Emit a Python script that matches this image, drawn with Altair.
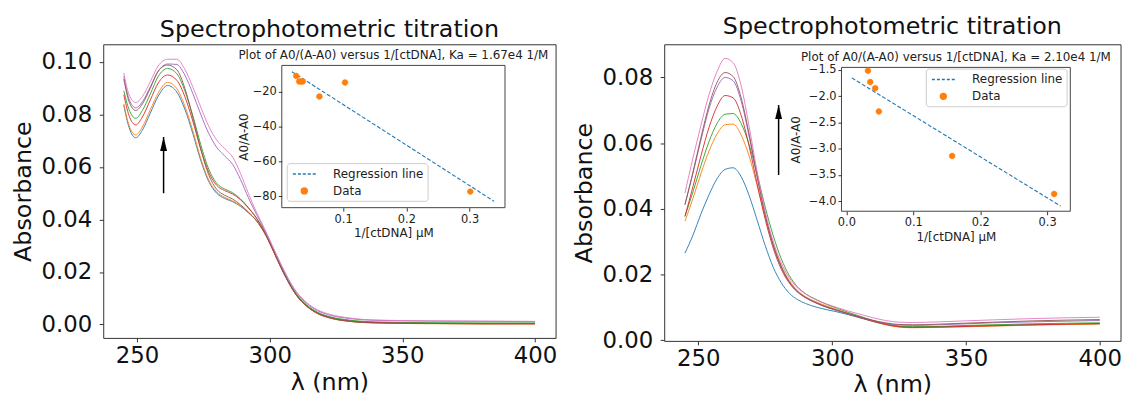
import altair as alt
import pandas as pd

FONT = "DejaVu Sans"
TAB10 = ["#1f77b4", "#ff7f0e", "#2ca02c", "#d62728", "#9467bd", "#8c564b", "#e377c2"]
CURVE_IDS = ["1", "2", "3", "4", "5", "6", "7"]

TITLE = "Spectrophotometric titration"
X_TITLE = "λ (nm)"
Y_TITLE = "Absorbance"
INSET_X_TITLE = "1/[ctDNA] μM"
INSET_Y_TITLE = "A0/A-A0"
LEGEND_NAMES = ["Regression line", "Data"]
LEGEND_COLORS = ["#1f77b4", "#ff7f0e"]
X_TICKS = [250, 300, 350, 400]

# ---------------- left panel data ----------------
wl_left = [245, 247, 249.5, 252, 255, 258, 261.5, 265, 268, 271, 274, 277, 280, 283, 286,
           289, 292, 295, 298, 301, 304, 307, 310, 314, 318, 323, 330, 340, 360, 380, 400]
left_blue = [.0835, .0750, .0711, .0740, .0805, .0870, .0910, .0885, .0820, .0728, .0625, .0545, .0500, .0480, .0468,
             .0450, .0425, .0395, .0350, .0290, .0225, .0165, .0115, .0072, .0045, .0027, .0015, .0008, .0005, .0004, .0004]
left_orange = [.0840, .0758, .0722, .0752, .0818, .0882, .0922, .0898, .0832, .0738, .0632, .0550, .0505, .0484, .0471,
               .0452, .0426, .0395, .0349, .0288, .0222, .0162, .0112, .0069, .0042, .0024, .0012, .0006, .0003, .0002, .0002]
left_green = [.0890, .0818, .0785, .0815, .0878, .0945, .0975, .0955, .0890, .0795, .0685, .0592, .0538, .0516, .0502,
              .0478, .0445, .0406, .0355, .0292, .0226, .0166, .0117, .0074, .0047, .0029, .0017, .0010, .0007, .0006, .0006]
left_red = [.0875, .0795, .0760, .0790, .0855, .0920, .0950, .0930, .0868, .0775, .0668, .0580, .0530, .0510, .0497,
            .0475, .0443, .0405, .0353, .0289, .0222, .0162, .0113, .0070, .0043, .0025, .0013, .0007, .0004, .0003, .0003]
left_purple = [.0945, .0858, .0825, .0848, .0905, .0965, .0992, .0990, .0950, .0880, .0800, .0728, .0675, .0642, .0610,
               .0552, .0482, .0420, .0362, .0297, .0232, .0172, .0123, .0080, .0053, .0035, .0023, .0016, .0013, .0012, .0011]
left_brown = [.0935, .0848, .0815, .0840, .0900, .0965, .0988, .0970, .0900, .0790, .0668, .0570, .0515, .0492, .0478,
              .0456, .0428, .0396, .0350, .0288, .0222, .0162, .0112, .0069, .0042, .0024, .0012, .0006, .0004, .0003, .0003]
left_pink = [.0958, .0875, .0845, .0868, .0925, .0985, .1010, .1010, .0972, .0905, .0828, .0755, .0703, .0670, .0638,
             .0575, .0498, .0428, .0366, .0300, .0235, .0175, .0126, .0083, .0056, .0038, .0025, .0017, .0014, .0013, .0012]
left_x_domain = [237.25, 407.75]
left_y_domain = [-0.0051, 0.1067]
left_y_ticks = [0.0, 0.02, 0.04, 0.06, 0.08, 0.10]
left_arrow_x = [260]
left_arrow_from = [0.050]
left_arrow_to = [0.0714]

left_inset_title = "Plot of A0/(A-A0) versus 1/[ctDNA], Ka = 1.67e4 1/M"
left_pts_x = [0.0258, 0.0305, 0.0335, 0.0362, 0.0625, 0.1030, 0.3011]
left_pts_y = [-11.0, -14.2, -14.2, -14.2, -22.8, -14.8, -77.3]
left_reg_x = [0.019, 0.339]
left_reg_y = [-8.6, -82.9]
left_inset_x_domain = [0.003, 0.356]
left_inset_y_domain = [-86.5, -5.0]
left_inset_x_ticks = [0.1, 0.2, 0.3]
left_inset_y_ticks = [-20, -40, -60, -80]

# ---------------- right panel data ----------------
wl_right = [245, 248, 251, 254, 257, 260, 263, 266, 269, 272, 275, 278, 281, 284, 287,
            290, 294, 298, 302, 306, 310, 315, 320, 325, 330, 340, 350, 360, 375, 400]
right_blue = [.0265, .0320, .0385, .0443, .0492, .0520, .0525, .0498, .0440, .0365, .0288, .0222, .0175, .0143, .0124,
              .0112, .0101, .0093, .0086, .0078, .0069, .0058, .0049, .0042, .0040, .0041, .0043, .0045, .0047, .0050]
right_orange = [.0362, .0432, .0508, .0576, .0628, .0656, .0658, .0625, .0560, .0470, .0375, .0292, .0228, .0182, .0152,
                .0133, .0117, .0104, .0093, .0082, .0071, .0058, .0047, .0040, .0038, .0039, .0041, .0043, .0046, .0049]
right_green = [.0377, .0452, .0532, .0605, .0660, .0688, .0690, .0660, .0595, .0505, .0405, .0318, .0248, .0197, .0163,
               .0142, .0124, .0109, .0097, .0085, .0074, .0061, .0050, .0043, .0041, .0042, .0045, .0047, .0050, .0053]
right_red = [.0377, .0468, .0562, .0648, .0712, .0745, .0738, .0685, .0590, .0475, .0368, .0280, .0216, .0174, .0147,
             .0130, .0114, .0101, .0090, .0080, .0070, .0058, .0048, .0041, .0039, .0040, .0042, .0044, .0047, .0051]
right_purple = [.0413, .0508, .0610, .0705, .0770, .0800, .0790, .0728, .0620, .0495, .0380, .0288, .0222, .0177, .0148,
                .0130, .0113, .0100, .0090, .0080, .0071, .0060, .0051, .0046, .0045, .0047, .0050, .0053, .0056, .0060]
right_brown = [.0413, .0512, .0618, .0715, .0785, .0815, .0803, .0738, .0627, .0500, .0383, .0290, .0223, .0178, .0149,
               .0131, .0114, .0101, .0091, .0081, .0072, .0061, .0053, .0048, .0047, .0049, .0052, .0055, .0059, .0063]
right_pink = [.0448, .0555, .0655, .0748, .0818, .0858, .0845, .0775, .0650, .0512, .0392, .0300, .0235, .0190, .0160,
              .0141, .0123, .0110, .0099, .0089, .0080, .0069, .0060, .0055, .0054, .0056, .0059, .0062, .0066, .0070]
right_x_domain = [237.25, 407.75]
right_y_domain = [-0.0002, 0.0901]
right_y_ticks = [0.0, 0.02, 0.04, 0.06, 0.08]
right_arrow_x = [280]
right_arrow_from = [0.0503]
right_arrow_to = [0.0716]

right_inset_title = "Plot of A0/(A-A0) versus 1/[ctDNA], Ka = 2.10e4 1/M"
right_pts_x = [0.0322, 0.0356, 0.0430, 0.0485, 0.158, 0.3105]
right_pts_y = [-1.513, -1.73, -1.845, -2.29, -3.136, -3.86]
right_reg_x = [0.008, 0.320]
right_reg_y = [-1.65, -4.09]
right_inset_x_domain = [-0.0074, 0.3347]
right_inset_y_domain = [-4.19, -1.45]
right_inset_x_ticks = [0.0, 0.1, 0.2, 0.3]
right_inset_y_ticks = [-1.5, -2.0, -2.5, -3.0, -3.5, -4.0]

# ---------------- symbols (shapes) ----------------
HEAD_PATH = "M0,0L0.25,1L-0.25,1Z"
DOT_PATH = "M0.5,0A0.5,0.5,0,1,1,-0.5,0A0.5,0.5,0,1,1,0.5,0Z"
DASH_PATH = "M-1.92,0H-1.42M-1.08,0H-0.58M-0.25,0H0.25M0.58,0H1.08M1.42,0H1.92"

# ---------------- layout (pixels) ----------------
LEFT_LAYOUT = dict(w=456, h=296, inset_x=[180, 405], inset_y=[164.7, 21.3],
                   inset_x_offset=-131.3, inset_y_offset=-180, legend_x=185, legend_y=119.8,
                   ytitle_pad=2, xfmt=".1f", yfmt="d", title_offset=2,
                   xlab_pad=3, xtitle_pad=3)
RIGHT_LAYOUT = dict(w=460, h=299, inset_x=[178.7, 409.4], inset_y=[168.3, 23.3],
                    inset_x_offset=-130.7, inset_y_offset=-178.7, legend_x=263.7, legend_y=24.5,
                    ytitle_pad=6, xfmt=".1f", yfmt=".1f", title_offset=5,
                    xlab_pad=3, xtitle_pad=2)


def panel(wl, curves, xdom, ydom, yticks, arrow, inset, lay):
    rows = []
    for cid, vals in zip(CURVE_IDS, curves):
        for w, a in zip(wl, vals):
            rows.append({"wl": w, "ab": a, "curve": cid})
    df = pd.DataFrame(rows)

    xax = alt.Axis(values=X_TICKS, title=X_TITLE, format="d", grid=False, domain=False,
                   tickSize=4, tickColor="#333", labelFontSize=23, titleFontSize=24,
                   labelPadding=lay["xlab_pad"], titlePadding=lay["xtitle_pad"], labelFlush=False,
                   titleFontWeight="normal", labelColor="#111", titleColor="#111")
    yax = alt.Axis(values=yticks, title=Y_TITLE, format=".2f", grid=False, domain=False,
                   tickSize=4, tickColor="#333", labelFontSize=23, titleFontSize=24,
                   labelPadding=7.5, titlePadding=5.5, titleFontWeight="normal",
                   labelColor="#111", titleColor="#111")
    X = alt.X("wl:Q", scale=alt.Scale(domain=xdom, nice=False, zero=False), axis=xax)
    Y = alt.Y("ab:Q", scale=alt.Scale(domain=ydom, nice=False, zero=False), axis=yax)

    lines = alt.Chart(df).mark_line(strokeWidth=0.9, interpolate="monotone").encode(
        x=X, y=Y,
        color=alt.Color("curve:N", scale=alt.Scale(domain=CURVE_IDS, range=TAB10), legend=None),
    )
    adf = pd.DataFrame({"wl": arrow[0], "ab": arrow[1], "ab2": arrow[2]})
    shaft = alt.Chart(adf).mark_rule(color="black", strokeWidth=1.5).encode(x=X, y=Y, y2="ab2:Q")
    hdf = pd.DataFrame({"wl": arrow[0], "ab": arrow[2]})
    head = alt.Chart(hdf).mark_point(shape=HEAD_PATH, filled=True, size=784, color="black",
                                     opacity=1, strokeWidth=0).encode(x=X, y=Y)
    main = alt.layer(lines, shaft, head)

    # ---- inset ----
    ixdom, iydom = inset["xdom"], inset["ydom"]
    ixax = alt.Axis(orient="bottom", offset=lay["inset_x_offset"], values=inset["xticks"],
                    format=lay["xfmt"], title=INSET_X_TITLE, grid=False, domain=False,
                    tickSize=3.5, tickColor="#333", labelFontSize=11.5, titleFontSize=12,
                    labelPadding=2, titlePadding=3, labelFlush=False, titleFontWeight="normal",
                    labelColor="#222", titleColor="#222", zindex=1)
    iyax = alt.Axis(orient="left", offset=lay["inset_y_offset"], values=inset["yticks"],
                    format=lay["yfmt"], title=INSET_Y_TITLE, grid=False, domain=False,
                    tickSize=3.5, tickColor="#333", labelFontSize=11.5, titleFontSize=12,
                    labelPadding=2, titlePadding=lay["ytitle_pad"], titleFontWeight="normal",
                    labelColor="#222", titleColor="#222", zindex=1)
    IX = alt.X("ix:Q", scale=alt.Scale(domain=ixdom, range=lay["inset_x"], nice=False, zero=False), axis=ixax)
    IY = alt.Y("iy:Q", scale=alt.Scale(domain=iydom, range=lay["inset_y"], nice=False, zero=False), axis=iyax)

    box = alt.Chart(pd.DataFrame({"ix": [ixdom[0]], "ix2": [ixdom[1]], "iy": [iydom[0]], "iy2": [iydom[1]]})
                    ).mark_rect(fill="white", stroke="#444", strokeWidth=1).encode(
        x=IX, x2="ix2:Q", y=IY, y2="iy2:Q")
    reg = alt.Chart(pd.DataFrame({"ix": inset["reg_x"], "iy": inset["reg_y"]})).mark_line(
        color=LEGEND_COLORS[0], strokeDash=[4, 2], strokeWidth=1.1).encode(x=IX, y=IY)

    leg = alt.Legend(orient="none", legendX=lay["legend_x"], legendY=lay["legend_y"], title=None,
                     padding=4, strokeColor="#cccccc", fillColor="white", cornerRadius=3,
                     labelFontSize=12, labelColor="#222", labelFont=FONT, symbolSize=144,
                     symbolStrokeWidth=1.4, symbolOffset=6.7, labelOffset=22, rowPadding=4)
    pdf = pd.DataFrame({"ix": inset["pts_x"], "iy": inset["pts_y"],
                        "series": [LEGEND_NAMES[1]] * len(inset["pts_x"])})
    pts = alt.Chart(pdf).mark_point(filled=False, fill=LEGEND_COLORS[1], size=144, strokeWidth=0.4,
                                    opacity=1).encode(
        x=IX, y=IY,
        color=alt.Color("series:N", scale=alt.Scale(domain=LEGEND_NAMES, range=LEGEND_COLORS), legend=leg),
        shape=alt.Shape("series:N", scale=alt.Scale(domain=LEGEND_NAMES, range=[DASH_PATH, DOT_PATH]), legend=leg),
    )
    tdf = pd.DataFrame({"ix": [(ixdom[0] + ixdom[1]) / 2], "iy": [iydom[1]], "t": [inset["title"]]})
    ttl = alt.Chart(tdf).mark_text(dy=-6, baseline="alphabetic", fontSize=12, font=FONT,
                                   color="#222").encode(x=IX, y=IY, text="t:N")
    inset_layer = alt.layer(box, reg, pts, ttl)

    return alt.layer(main, inset_layer).resolve_scale(
        x="independent", y="independent", color="independent", shape="independent"
    ).properties(
        width=lay["w"], height=lay["h"],
        title=alt.Title(TITLE, fontSize=24, fontWeight="normal", font=FONT, anchor="middle",
                        frame="group", offset=lay["title_offset"], color="#111"),
    )


left = panel(
    wl_left,
    [left_blue, left_orange, left_green, left_red, left_purple, left_brown, left_pink],
    left_x_domain, left_y_domain, left_y_ticks,
    (left_arrow_x, left_arrow_from, left_arrow_to),
    dict(xdom=left_inset_x_domain, ydom=left_inset_y_domain, xticks=left_inset_x_ticks,
         yticks=left_inset_y_ticks, pts_x=left_pts_x, pts_y=left_pts_y,
         reg_x=left_reg_x, reg_y=left_reg_y, title=left_inset_title),
    LEFT_LAYOUT,
)
right = panel(
    wl_right,
    [right_blue, right_orange, right_green, right_red, right_purple, right_brown, right_pink],
    right_x_domain, right_y_domain, right_y_ticks,
    (right_arrow_x, right_arrow_from, right_arrow_to),
    dict(xdom=right_inset_x_domain, ydom=right_inset_y_domain, xticks=right_inset_x_ticks,
         yticks=right_inset_y_ticks, pts_x=right_pts_x, pts_y=right_pts_y,
         reg_x=right_reg_x, reg_y=right_reg_y, title=right_inset_title),
    RIGHT_LAYOUT,
)

chart = alt.hconcat(left, right, spacing=14.5).properties(
    padding={"left": 3, "top": 5, "right": 0, "bottom": 0}
).configure(font=FONT).configure_view(stroke="#333", strokeWidth=1).configure_axis(
    labelFont=FONT, titleFont=FONT
).configure_title(font=FONT)

chart.save("out.html", embed_options={"renderer": "svg", "actions": False})
